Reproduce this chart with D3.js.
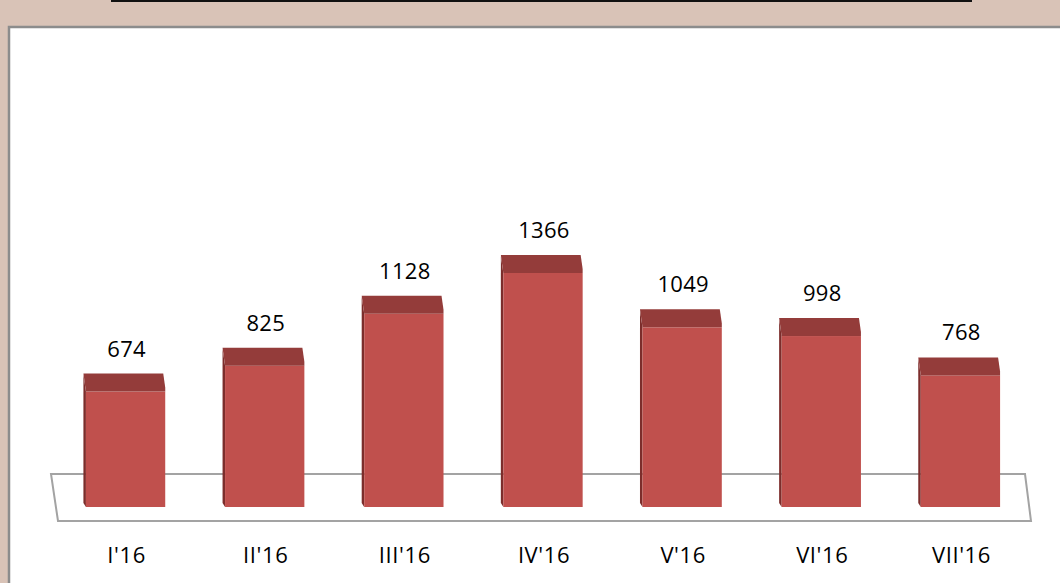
<!DOCTYPE html>
<html>
<head>
<meta charset="utf-8">
<script src="https://cdn.jsdelivr.net/npm/d3@7"></script>
<style>
  html, body { margin: 0; padding: 0; background: #d9c3b7; }
  svg { display: block; }
  .val, .cat { font-family: "Open Sans", sans-serif; font-size: 22px; fill: #000; }
</style>
</head>
<body>
<div id="chart"></div>
<script>
const categories = ["I'16", "II'16", "III'16", "IV'16", "V'16", "VI'16", "VII'16"];
const values = [674, 825, 1128, 1366, 1049, 998, 768];

const width = 1060, height = 583;
const baseY = 507;       // bottom of the bar fronts
const capH = 18;         // depth of the 3d top
const sideW = 2.5;       // thin dark left face

const svg = d3.select("#chart")
  .append("svg")
  .attr("width", width)
  .attr("height", height);

// background panel
svg.append("rect")
  .attr("x", 0).attr("y", 0)
  .attr("width", width).attr("height", height)
  .attr("fill", "#d9c3b7");

// underline of the (cut off) title
svg.append("rect")
  .attr("x", 111).attr("y", 0)
  .attr("width", 861).attr("height", 2)
  .attr("fill", "#111");

svg.append("rect")
  .attr("x", 8).attr("y", 26)
  .attr("width", width).attr("height", height)
  .attr("fill", "#fff");

svg.append("path")
  .attr("d", `M9,${height} V27 H${width}`)
  .attr("fill", "none")
  .attr("stroke", "#8c8c8c")
  .attr("stroke-width", 2.5);

const x = d3.scaleBand()
  .domain(categories)
  .range([56, 1030])
  .paddingInner(0.43)
  .paddingOuter(0.215);

const y = d3.scaleLinear()
  .domain([0, 1600])
  .range([baseY, baseY - 1600 * 0.1713]);

// floor
svg.append("polygon")
  .attr("points", [[51, 474], [1025, 474], [1031, 521], [58, 521]].map(p => p.join(",")).join(" "))
  .attr("fill", "#fff")
  .attr("stroke", "#a3a3a3")
  .attr("stroke-width", 2);

const bars = svg.selectAll("g.bar")
  .data(values)
  .enter()
  .append("g")
  .attr("class", "bar");

// left face
bars.append("polygon")
  .attr("fill", "#7c2d2b")
  .attr("points", (d, i) => {
    const x0 = x(categories[i]);
    const top = y(d);
    return [[x0 - sideW, top - capH + 1], [x0, top], [x0, baseY], [x0 - sideW, baseY - 4]]
      .map(p => p.join(",")).join(" ");
  });

// front
bars.append("rect")
  .attr("x", (d, i) => x(categories[i]))
  .attr("y", d => y(d))
  .attr("width", x.bandwidth())
  .attr("height", d => baseY - y(d))
  .attr("fill", "#c0504d");

// top
bars.append("polygon")
  .attr("fill", "#943c3a")
  .attr("points", (d, i) => {
    const x0 = x(categories[i]);
    const x1 = x0 + x.bandwidth();
    const top = y(d);
    return [[x0 - sideW, top - capH], [x1 - 2, top - capH], [x1, top - 4], [x1, top], [x0, top]]
      .map(p => p.join(",")).join(" ");
  });

// value labels
bars.append("text")
  .attr("class", "val")
  .attr("x", (d, i) => x(categories[i]) + x.bandwidth() / 2 + 1)
  .attr("y", d => y(d) - capH - 17)
  .attr("text-anchor", "middle")
  .attr("letter-spacing", "0.3px")
  .text(d => d);

// category labels
svg.selectAll("text.cat")
  .data(categories)
  .enter()
  .append("text")
  .attr("class", "cat")
  .attr("x", d => x(d) + x.bandwidth() / 2 + 1)
  .attr("y", 563)
  .attr("text-anchor", "middle")
  .attr("letter-spacing", "0.6px")
  .text(d => d);
</script>
</body>
</html>
